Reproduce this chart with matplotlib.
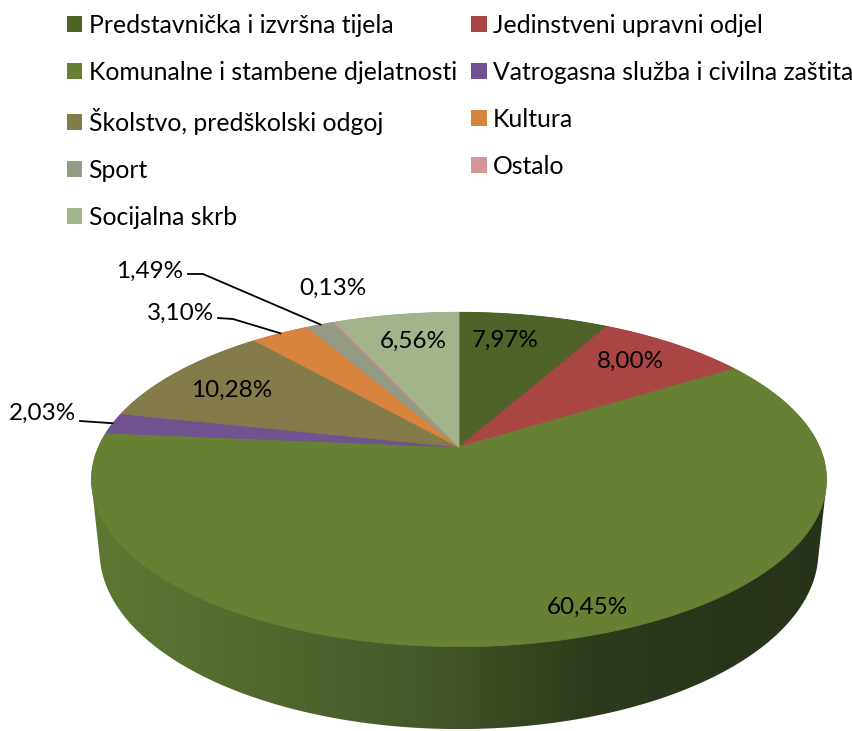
import numpy as np
import matplotlib.pyplot as plt
from matplotlib.patches import Polygon, Patch
from matplotlib.colors import LinearSegmentedColormap

plt.rcParams['font.family'] = ['Lato', 'DejaVu Sans']

# Podaci
categories = ['Predstavnička i izvršna tijela', 'Jedinstveni upravni odjel',
              'Komunalne i stambene djelatnosti', 'Vatrogasna služba i civilna zaštita',
              'Školstvo, predškolski odgoj', 'Kultura', 'Sport', 'Ostalo',
              'Socijalna skrb']
shares = [7.97, 8.00, 60.45, 2.03, 10.28, 3.10, 1.49, 0.13, 6.56]
colors = ['#4F6228', '#A94544', '#678033', '#6F5390', '#847B4A',
          '#D9843E', '#959C86', '#D49797', '#A3B38B']

# Položaji natpisa (pikseli) i koje imaju liniju
label_xy = [(505, 340), (630, 361), (587, 607), (42, 413), (232, 390),
            (181, 313), (150, 271), (333, 288), (413, 341)]
leader_start = {3: [(80, 421)], 5: [(218, 318), (233, 319)], 6: [(188, 274), (203, 274)]}

# Perspektiva (kamera)
ELEV = np.radians(26.5)
DIST = 4.61
FOCAL = 1662
CX, CY = 459, 447
DEPTH = 0.225


def project(theta, r=1.0, z=0.0):
    X = r * np.sin(theta)
    Y = r * np.cos(theta)
    s, c = np.sin(ELEV), np.cos(ELEV)
    d = DIST + Y * c - z * s
    v = Y * s + z * c
    return CX + FOCAL * X / d, CY - FOCAL * v / d


def convex_hull(pts):
    pts = sorted(map(tuple, pts))
    def cross(o, a, b):
        return (a[0] - o[0]) * (b[1] - o[1]) - (a[1] - o[1]) * (b[0] - o[0])
    lower, upper = [], []
    for p in pts:
        while len(lower) >= 2 and cross(lower[-2], lower[-1], p) <= 0:
            lower.pop()
        lower.append(p)
    for p in reversed(pts):
        while len(upper) >= 2 and cross(upper[-2], upper[-1], p) <= 0:
            upper.pop()
        upper.append(p)
    return np.array(lower[:-1] + upper[:-1])


fig = plt.figure(figsize=(8.52, 7.31), dpi=100)
ax = fig.add_axes([0, 0, 1, 1])
ax.set_xlim(0, 852)
ax.set_ylim(731, 0)
ax.axis('off')

# Bočna strana (plašt) - gradijent
t = np.linspace(0, 2 * np.pi, 721)
top = np.column_stack(project(t))
bot = np.column_stack(project(t, z=-DEPTH))
hull = convex_hull(np.vstack([top, bot]))
side = Polygon(hull, closed=True, facecolor='none', edgecolor='none')
ax.add_patch(side)
cmap = LinearSegmentedColormap.from_list(
    'side', [(0, '#5E7832'), (0.45, '#46592A'), (0.68, '#2D3A1B'), (1, '#27321A')])
x0, x1 = hull[:, 0].min(), hull[:, 0].max()
y0, y1 = hull[:, 1].min(), hull[:, 1].max()
im = ax.imshow(np.linspace(0, 1, 256).reshape(1, -1), cmap=cmap, aspect='auto',
               extent=(x0, x1, y1, y0), zorder=1)
im.set_clip_path(side)

# Gornja ploha - isječci
bounds = np.concatenate([[0], np.cumsum(shares)]) / np.sum(shares) * 2 * np.pi
for i, col in enumerate(colors):
    a = np.linspace(bounds[i], bounds[i + 1], max(int(shares[i] * 8), 3))
    xs, ys = project(a)
    poly = np.vstack([[CX, CY], np.column_stack([xs, ys])])
    ax.add_patch(Polygon(poly, closed=True, facecolor=col, edgecolor=col,
                         linewidth=0.6, zorder=2))

ax.set_xlim(0, 852)
ax.set_ylim(731, 0)

# Natpisi s postotcima
for i, v in enumerate(shares):
    txt = f'{v:.2f}%'.replace('.', ',')
    ax.text(*label_xy[i], txt, ha='center', va='center', fontsize=17.5, zorder=4)
    if i in leader_start:
        mid = (bounds[i] + bounds[i + 1]) / 2
        ex, ey = project(mid)
        pts = leader_start[i] + [(ex, ey)]
        ax.plot([p[0] for p in pts], [p[1] for p in pts], color='black',
                linewidth=1.3, zorder=3)

# Legenda (redoslijed po recima)
handles = [Patch(facecolor=c, edgecolor='none') for c in colors]
order = [0, 2, 4, 6, 8, 1, 3, 5, 7]
ax.legend([handles[k] for k in order], [categories[k] for k in order], ncol=2,
          loc='upper left', bbox_to_anchor=(67 / 852, 1 - 14 / 731),
          bbox_transform=fig.transFigure, frameon=False, fontsize=17.8,
          handlelength=0.62, handleheight=0.62, handletextpad=0.25,
          labelspacing=0.97, columnspacing=0.6, borderpad=0, borderaxespad=0)

fig.savefig('out.png', dpi=100)
